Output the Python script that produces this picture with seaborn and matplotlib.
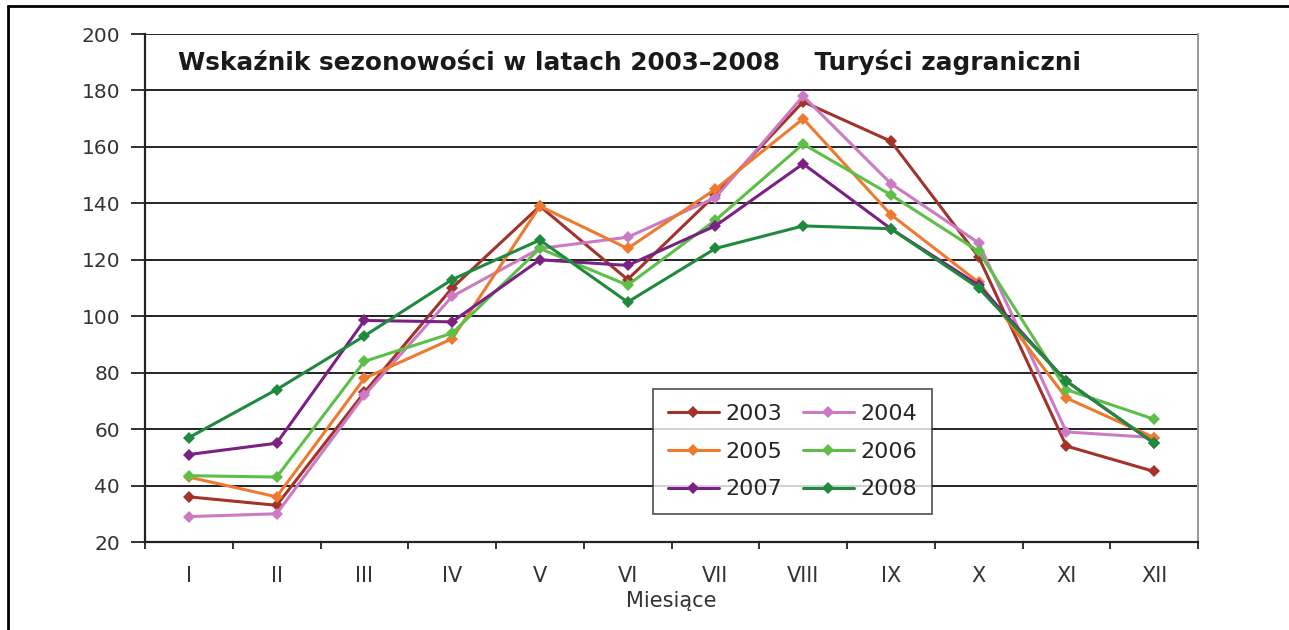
import pandas as pd
import matplotlib
matplotlib.use("Agg")
import matplotlib.pyplot as plt
from matplotlib.lines import Line2D
from matplotlib.ticker import FixedLocator
import seaborn as sns

# dane: wskaznik sezonowosci, turysci zagraniczni
months = ["I", "II", "III", "IV", "V", "VI", "VII", "VIII", "IX", "X", "XI", "XII"]
years = ["2003", "2004", "2005", "2006", "2007", "2008"]
y2003 = [36, 33, 73, 110, 139, 113, 143, 176, 162, 121, 54, 45]
y2004 = [29, 30, 72, 107, 124, 128, 142, 178, 147, 126, 59, 57]
y2005 = [43, 36, 78, 92, 139, 124, 145, 170, 136, 112, 71, 57]
y2006 = [43.5, 43, 84, 94, 124, 111, 134, 161, 143, 123, 74, 63.5]
y2007 = [51, 55, 98.5, 98, 120, 118, 132, 154, 131, 111, 77, 55]
y2008 = [57, 74, 93, 113, 127, 105, 124, 132, 131, 110, 77, 55]

palette = {"2003": "#A3322B", "2004": "#CB7AC3", "2005": "#EE7A30",
           "2006": "#5EBF48", "2007": "#7A2183", "2008": "#1F8A3E"}

series = [y2003, y2004, y2005, y2006, y2007, y2008]
rows = []
for year, vals in zip(years, series):
    for i, v in enumerate(vals):
        rows.append({"year": year, "pos": i, "value": v})
df = pd.DataFrame(rows)

sns.set_theme(style="white")
plt.rcParams["font.family"] = ["DejaVu Sans"]

fig = plt.figure(figsize=(12.89, 6.3), dpi=100)
ax = fig.add_axes([145 / 1289, 1 - 542 / 630, 1053 / 1289, 508 / 630])

sns.lineplot(data=df, x="pos", y="value", hue="year", palette=palette,
             marker="D", markersize=6.5, markeredgewidth=0, linewidth=2.2,
             ax=ax, legend=False)

ax.set_xlim(-0.5, 11.5)
ax.set_ylim(20, 200)
ax.set_yticks(range(20, 201, 20))
ax.yaxis.grid(True, color="#222222", linewidth=1.4)
ax.set_axisbelow(True)

ax.set_xticks(range(12))
ax.set_xticklabels(months)
ax.xaxis.set_minor_locator(FixedLocator([i - 0.5 for i in range(13)]))
ax.tick_params(axis="x", which="major", length=0, pad=17, labelsize=15, labelcolor="#333333")
ax.tick_params(axis="x", which="minor", bottom=True, length=5, width=1.3, color="#222222")
ax.tick_params(axis="y", which="major", left=True, length=10, width=1.3, color="#222222",
               labelsize=14.5, labelcolor="#333333", pad=8)

for s in ["left", "bottom"]:
    ax.spines[s].set_color("#222222")
    ax.spines[s].set_linewidth(1.6)
ax.spines["right"].set_color("#9a9a9a")
ax.spines["right"].set_linewidth(1.4)
ax.spines["top"].set_visible(False)

ax.set_xlabel("Miesiące", fontsize=15, color="#333333", labelpad=4)
ax.set_ylabel("")

ax.text(0.031, 0.945, "Wskaźnik sezonowości w latach 2003–2008    Turyści zagraniczni",
        transform=ax.transAxes, fontsize=17.8, fontweight="bold", color="#1a1a1a",
        va="center", ha="left")

# legenda: kolejnosc wierszami 2003 2004 / 2005 2006 / 2007 2008
order = ["2003", "2005", "2007", "2004", "2006", "2008"]
handles = [Line2D([], [], color=palette[y], marker="D", markersize=6,
                  markeredgewidth=0, linewidth=2.2) for y in order]
leg = ax.legend(handles, order, ncol=2, loc="upper left",
                bbox_to_anchor=((653 - 145) / 1053, (542 - 389) / 508),
                fontsize=16, frameon=True, fancybox=False, borderpad=0.67,
                handlelength=2.3, handletextpad=0.3, columnspacing=0.9,
                labelspacing=0.8, borderaxespad=0)
leg.get_frame().set_edgecolor("#333333")
leg.get_frame().set_linewidth(1.3)

# ramka wokol rysunku
fig.add_artist(Line2D([8 / 1289, 1], [1 - 6 / 630, 1 - 6 / 630], color="black", linewidth=2))
fig.add_artist(Line2D([8 / 1289, 8 / 1289], [0, 1 - 6 / 630], color="black", linewidth=2))

fig.savefig("out.png", dpi=100)
